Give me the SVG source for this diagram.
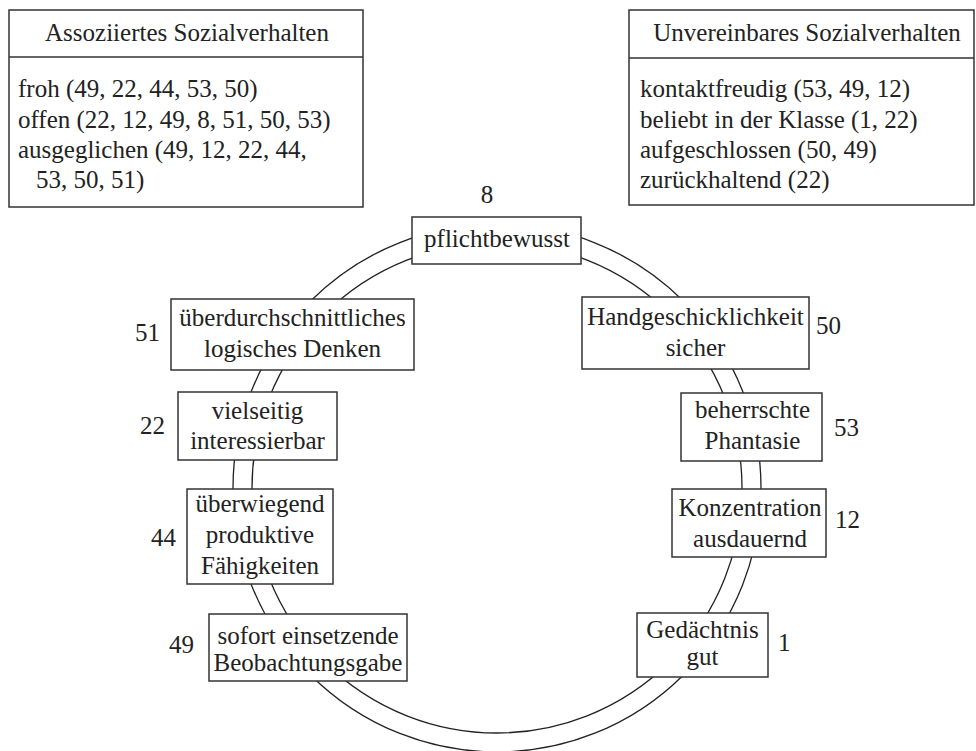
<svg xmlns="http://www.w3.org/2000/svg" width="976" height="751" viewBox="0 0 976 751">
<style>
  text { font-family: "Liberation Serif", "Times New Roman", serif; font-size: 25px; fill: #222; }
  .c { text-anchor: middle; }
  .box { fill: #fff; stroke: #333; stroke-width: 1.5; }
  .ring { fill: none; stroke: #222; stroke-width: 1.3; }
  .line { stroke: #333; stroke-width: 1.5; }
</style>
<rect width="976" height="751" fill="#fff"/>

<g id="legend-left">
  <rect class="box" x="9" y="10" width="354" height="197"/>
  <line class="line" x1="9" y1="57" x2="363" y2="57"/>
  <text class="c" x="187" y="41">Assoziiertes Sozialverhalten</text>
  <text x="18" y="97">froh (49, 22, 44, 53, 50)</text>
  <text x="18" y="128">offen (22, 12, 49, 8, 51, 50, 53)</text>
  <text x="18" y="158">ausgeglichen (49, 12, 22, 44,</text>
  <text x="36" y="188">53, 50, 51)</text>
</g>

<g id="legend-right">
  <rect class="box" x="629" y="10" width="345" height="195"/>
  <line class="line" x1="629" y1="58" x2="974" y2="58"/>
  <text class="c" x="807" y="41">Unvereinbares Sozialverhalten</text>
  <text x="640" y="97">kontaktfreudig (53, 49, 12)</text>
  <text x="640" y="128">beliebt in der Klasse (1, 22)</text>
  <text x="640" y="158">aufgeschlossen (50, 49)</text>
  <text x="640" y="188">zurückhaltend (22)</text>
</g>

<g id="connectors">
  <circle class="ring" cx="497" cy="488" r="264"/>
  <circle class="ring" cx="497" cy="488" r="245"/>
</g>

<g id="node-8">
  <rect class="box" x="412" y="217" width="169" height="47"/>
  <text class="c" x="497" y="247">pflichtbewusst</text>
  <text class="c" x="487" y="203">8</text>
</g>

<g id="node-51">
  <rect class="box" x="171" y="299" width="243" height="71"/>
  <text class="c" x="292.5" y="326">überdurchschnittliches</text>
  <text class="c" x="292.5" y="357">logisches Denken</text>
  <text x="135" y="341">51</text>
</g>

<g id="node-22">
  <rect class="box" x="178" y="392" width="159" height="68"/>
  <text class="c" x="257.5" y="419">vielseitig</text>
  <text class="c" x="257.5" y="449">interessierbar</text>
  <text x="140" y="434">22</text>
</g>

<g id="node-44">
  <rect class="box" x="187" y="489" width="146" height="95"/>
  <text class="c" x="260" y="512">überwiegend</text>
  <text class="c" x="260" y="543">produktive</text>
  <text class="c" x="260" y="574">Fähigkeiten</text>
  <text x="151" y="546">44</text>
</g>

<g id="node-49">
  <rect class="box" x="209" y="614" width="198" height="67"/>
  <text class="c" x="308" y="644">sofort einsetzende</text>
  <text class="c" x="308" y="671">Beobachtungsgabe</text>
  <text x="169" y="653">49</text>
</g>

<g id="node-50">
  <rect class="box" x="582" y="297" width="227" height="72"/>
  <text class="c" x="695.5" y="325">Handgeschicklichkeit</text>
  <text class="c" x="695.5" y="356">sicher</text>
  <text x="816" y="334">50</text>
</g>

<g id="node-53">
  <rect class="box" x="681" y="393" width="141" height="68"/>
  <text class="c" x="752.5" y="418">beherrschte</text>
  <text class="c" x="752.5" y="449">Phantasie</text>
  <text x="834" y="436">53</text>
</g>

<g id="node-12">
  <rect class="box" x="672" y="489" width="154" height="68"/>
  <text class="c" x="750" y="516">Konzentration</text>
  <text class="c" x="750" y="547">ausdauernd</text>
  <text x="835" y="528">12</text>
</g>

<g id="node-1">
  <rect class="box" x="637" y="613" width="131" height="64"/>
  <text class="c" x="702.5" y="638">Gedächtnis</text>
  <text class="c" x="702.5" y="665">gut</text>
  <text x="778" y="651">1</text>
</g>
</svg>
